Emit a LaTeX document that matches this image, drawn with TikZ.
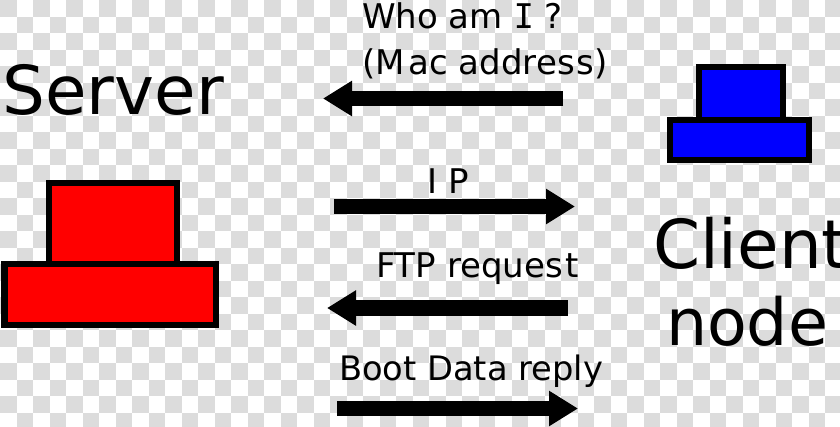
\documentclass[tikz,border=0pt]{standalone}
\usepackage{fontspec}
\setmainfont{DejaVu Sans}
\setmonofont{DejaVu Sans Mono}
\usetikzlibrary{arrows.meta}
\definecolor{chk}{HTML}{DCDCDC}
\definecolor{srvred}{HTML}{FF0000}
\definecolor{cliblue}{HTML}{0000FF}
\tikzset{
  big/.style={anchor=base west,inner sep=0pt,outer sep=0pt,font=\fontsize{67.5bp}{68bp}\selectfont},
  small/.style={anchor=base west,inner sep=0pt,outer sep=0pt,font=\fontsize{34bp}{34bp}\selectfont},
  box/.style={anchor=north west,inner sep=0pt,outer sep=0pt,draw=black,line width=6bp},
  flow/.style={line width=15.5bp,-{Triangle[length=29bp,width=33.5bp]}},
}
\begin{document}
\begin{tikzpicture}[x=1bp,y=-1bp]
\useasboundingbox (0,0) rectangle (840,426);
\clip (0,0) rectangle (840,426);
\fill[white] (0,0) rectangle (840,426);
\foreach \c in {0,...,50}{\foreach \r in {0,...,25}{
  \pgfmathparse{int(mod(\c+\r,2))}
  \ifnum\pgfmathresult=0
    \fill[chk] (\c*16.5,\r*16.5) rectangle ++(16.5,16.5);
  \fi
}}
% server
\node[box,fill=srvred,minimum width=128bp,minimum height=80.5bp] (srvtop) at (48.5,183) {};
\node[box,fill=srvred,minimum width=211.5bp,minimum height=61.5bp] (srvbase) at (4.5,263.5) {};
% client
\node[box,fill=cliblue,minimum width=84bp,minimum height=53bp] (clitop) at (699,67) {};
\node[box,fill=cliblue,minimum width=139bp,minimum height=40bp] (clibase) at (670,120) {};
% labels
\node[big] (server) at (2.5,114) {Server};
\node[big] (client) at (653,268) {Client};
\node[big,font=\fontsize{65bp}{65bp}\selectfont] (nodetxt) at (666,345) {node};
\node[small] (who) at (362,28) {Who am {\ttfamily I} ?};
\node[small] (mac) at (362,74) {(M\kern4bp ac addres\kern1.5bp s)};
\node[small] (ip) at (427,193.5) {I\kern11bp P};
\node[small] (ftp) at (376,277.5) {FTP reques\kern3bp t};
\node[small,font=\fontsize{33.7bp}{34bp}\selectfont] (boot) at (339,380) {Boot Data reply};
% arrows
\coordinate (a1s) at (563,98.5); \coordinate (a1e) at (323,98.5);
\coordinate (a2s) at (334,206.5); \coordinate (a2e) at (575,206.5);
\coordinate (a3s) at (567.5,308); \coordinate (a3e) at (327,308);
\coordinate (a4s) at (337,408.5); \coordinate (a4e) at (578,408.5);
\draw[flow] (a1s) -- (a1e);
\draw[flow] (a2s) -- (a2e);
\draw[flow] (a3s) -- (a3e);
\draw[flow] (a4s) -- (a4e);
\end{tikzpicture}
\end{document}
